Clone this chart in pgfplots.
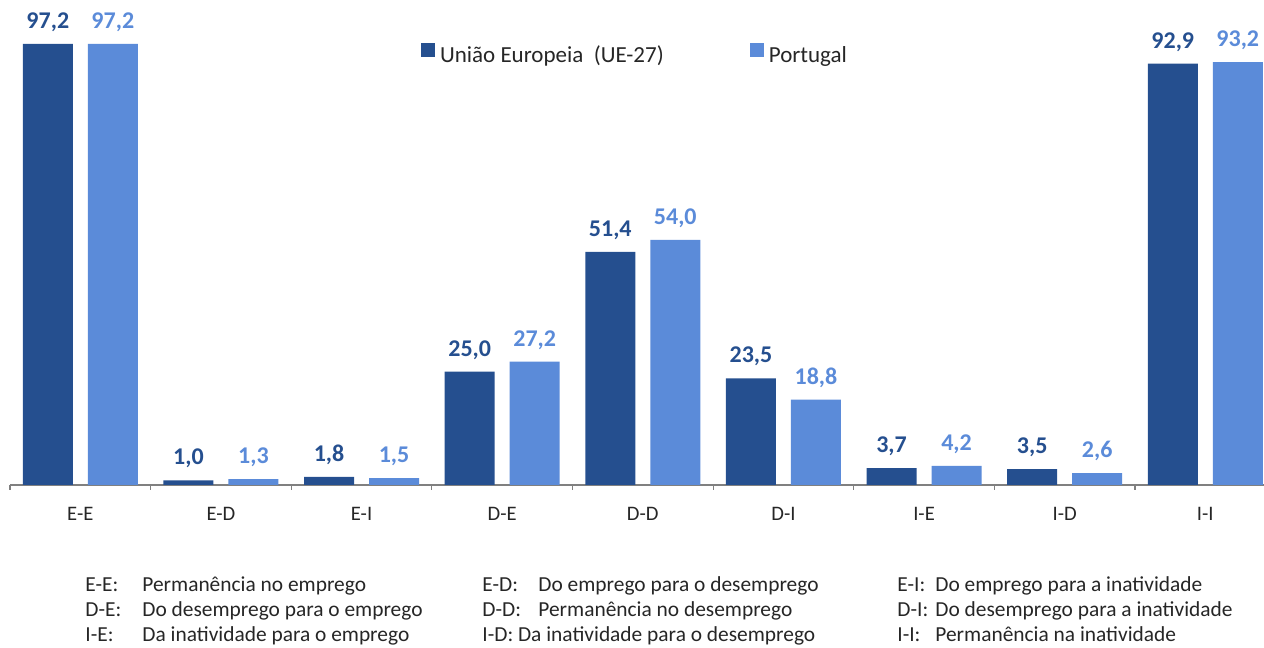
\documentclass[border=0pt]{standalone}
\usepackage{fontspec}
\setmainfont{Carlito}
\usepackage{pgfplots}
\pgfplotsset{compat=1.18}
\definecolor{eu}{RGB}{37,79,143}
\definecolor{pt}{RGB}{91,139,217}
\definecolor{txt}{RGB}{38,38,38}
\definecolor{axisgray}{RGB}{128,128,128}

\begin{document}
\begin{tikzpicture}
\useasboundingbox (0,0) rectangle (632pt,324pt);
\begin{axis}[
    at={(5pt,81.5pt)}, anchor=south west,
    scale only axis,
    width=632.8pt, height=226.85pt,
    ybar=7.5pt, bar width=25pt,
    xmin=-0.5, xmax=8.5, ymin=0, ymax=100,
    clip=false,
    axis x line*=bottom, axis y line=none,
    x axis line style={draw=axisgray, line width=0.6pt},
    xtick={-0.5,0.5,...,8.5},
    x tick label as interval,
    xticklabels={E-E,E-D,E-I,D-E,D-D,D-I,I-E,I-D,I-I},
    tick align=outside, major tick length=2.5pt,
    x tick style={draw=axisgray, line width=0.6pt},
    x tick label style={font=\fontsize{10.3}{12}\selectfont, text=txt, anchor=base, yshift=-15.35pt},
    nodes near coords={\pgfmathprintnumber[fixed,fixed zerofill,precision=1,use comma,assume math mode=true]{\pgfplotspointmeta}},
    every node near coord/.append style={font=\fontsize{12}{14}\selectfont\bfseries, anchor=base, yshift=7.75pt, inner sep=0pt},
    legend columns=2,
    legend style={at={(rel axis cs:0.3248,0.950)}, anchor=west, draw=none, fill=none,
        inner sep=0pt, outer sep=0pt, font=\fontsize{11.5}{13}\selectfont, text=txt,
        nodes={inner sep=0pt},
        /tikz/every odd column/.append style={column sep=2.5pt},
        /tikz/every even column/.append style={column sep=43pt}},
    legend image code/.code={\fill[#1] (0pt,-0.5pt) rectangle (7pt,6.5pt);},
]
% Uniao Europeia (UE-27)
\addplot[fill=eu, draw=none, every node near coord/.append style={text=eu}]
    coordinates {(0,97.2) (1,1.0) (2,1.8) (3,25.0) (4,51.4) (5,23.5) (6,3.7) (7,3.5) (8,92.9)};
% Portugal
\addplot[fill=pt, draw=none, every node near coord/.append style={text=pt}]
    coordinates {(0,97.2) (1,1.3) (2,1.5) (3,27.2) (4,54.0) (5,18.8) (6,4.2) (7,2.6) (8,93.2)};
\legend{União Europeia\ \ (UE-27), Portugal}
\end{axis}

\begin{scope}[every node/.style={anchor=base west, inner sep=0pt, text=txt, font=\fontsize{10.7}{13}\selectfont}]
\node at (42.5pt,28pt) {E-E:};
\node at (71pt,28pt) {Permanência no emprego};
\node at (42.5pt,15.5pt) {D-E:};
\node at (71pt,15.5pt) {Do desemprego para o emprego};
\node at (42.5pt,3pt) {I-E:};
\node at (71pt,3pt) {Da inatividade para o emprego};
\node at (241pt,28pt) {E-D:};
\node at (269pt,28pt) {Do emprego para o desemprego};
\node at (241pt,15.5pt) {D-D:};
\node at (269pt,15.5pt) {Permanência no desemprego};
\node at (241pt,3pt) {I-D: Da inatividade para o desemprego};
\node at (448.5pt,28pt) {E-I:};
\node at (467.5pt,28pt) {Do emprego para a inatividade};
\node at (448.5pt,15.5pt) {D-I:};
\node at (467.5pt,15.5pt) {Do desemprego para a inatividade};
\node at (448.5pt,3pt) {I-I:};
\node at (467.5pt,3pt) {Permanência na inatividade};
\end{scope}
\end{tikzpicture}
\end{document}
